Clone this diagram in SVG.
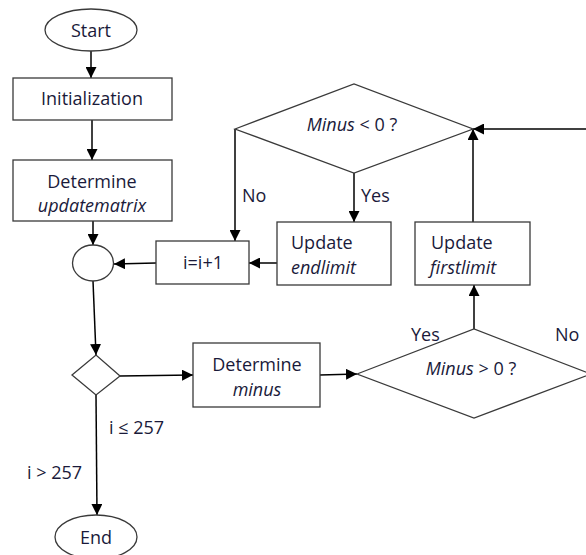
<svg xmlns="http://www.w3.org/2000/svg" width="586" height="555" viewBox="0 0 586 555">
  <defs>
    <marker id="arrow" viewBox="0 0 10 10" refX="10" refY="5" markerWidth="11" markerHeight="11" markerUnits="userSpaceOnUse" orient="auto">
      <path d="M0,0 L10,5 L0,10 Z" fill="#000"/>
    </marker>
    <style>
      .shape { fill: #fff; stroke: #3a3a3a; stroke-width: 1.3; }
      .edge { fill: none; stroke: #000; stroke-width: 1.5; }
      .arr { marker-end: url(#arrow); }
      text { font-family: "Open Sans", "Liberation Sans", sans-serif; font-size: 18px; fill: #1a1a3a; }
      .c { text-anchor: middle; }
      .it { font-style: italic; }
    </style>
  </defs>
  <rect width="586" height="555" fill="#fff"/>

  <g id="connectors">
    <line class="edge arr" x1="91" y1="51" x2="91" y2="78"/>
    <line class="edge arr" x1="92" y1="120" x2="92" y2="160"/>
    <line class="edge arr" x1="93" y1="221" x2="93" y2="245"/>
    <polyline class="edge arr" points="235,129 235,241"/>
    <line class="edge arr" x1="354" y1="173" x2="354" y2="222"/>
    <line class="edge arr" x1="277" y1="263" x2="249" y2="263"/>
    <line class="edge arr" x1="156" y1="263" x2="114" y2="264"/>
    <line class="edge arr" x1="473" y1="222" x2="473" y2="129"/>
    <line class="edge arr" x1="586" y1="129" x2="473" y2="129"/>
    <line class="edge arr" x1="93" y1="281" x2="96" y2="355"/>
    <line class="edge arr" x1="120" y1="376" x2="193" y2="375"/>
    <line class="edge arr" x1="320" y1="375" x2="357" y2="374"/>
    <line class="edge arr" x1="474" y1="329" x2="474" y2="285"/>
    <line class="edge arr" x1="96" y1="395" x2="97" y2="515"/>
  </g>

  <g id="start">
    <ellipse class="shape" cx="91" cy="30" rx="46" ry="21"/>
    <text class="c" x="91" y="37">Start</text>
  </g>
  <g id="init">
    <rect class="shape" x="13" y="78" width="159" height="42"/>
    <text class="c" x="92" y="105">Initialization</text>
  </g>
  <g id="determine-updatematrix">
    <rect class="shape" x="13" y="160" width="159" height="61"/>
    <text class="c" x="92" y="188">Determine</text>
    <text class="c it" x="92" y="212">updatematrix</text>
  </g>
  <g id="junction">
    <ellipse class="shape" cx="93" cy="263" rx="20.5" ry="18"/>
  </g>
  <g id="increment">
    <rect class="shape" x="156" y="241" width="93" height="43"/>
    <text class="c" x="203" y="269">i=i+1</text>
  </g>
  <g id="update-endlimit">
    <rect class="shape" x="277" y="222" width="114" height="63"/>
    <text x="291" y="249">Update</text>
    <text class="it" x="291" y="274">endlimit</text>
  </g>
  <g id="update-firstlimit">
    <rect class="shape" x="415" y="222" width="115" height="63"/>
    <text x="431" y="249">Update</text>
    <text class="it" x="430" y="274">firstlimit</text>
  </g>
  <g id="minus-lt-zero">
    <polygon class="shape" points="235,129 354,84 473,129 354,173"/>
    <text class="c" x="352" y="131"><tspan class="it">Minus</tspan> &lt; 0 ?</text>
  </g>
  <g id="loop-check">
    <polygon class="shape" points="72,375 96,355 120,376 96,395"/>
  </g>
  <g id="determine-minus">
    <rect class="shape" x="193" y="343" width="127" height="64"/>
    <text class="c" x="257" y="371">Determine</text>
    <text class="c it" x="257" y="396">minus</text>
  </g>
  <g id="minus-gt-zero">
    <polygon class="shape" points="357,374 474,329 591,374 474,418"/>
    <text class="c" x="471" y="375"><tspan class="it">Minus</tspan> &gt; 0 ?</text>
  </g>
  <g id="end">
    <ellipse class="shape" cx="96" cy="537" rx="41" ry="22"/>
    <text class="c" x="96" y="544">End</text>
  </g>

  <g id="labels">
    <text x="242" y="202">No</text>
    <text x="361" y="202">Yes</text>
    <text x="411" y="341">Yes</text>
    <text x="555" y="341">No</text>
    <text x="109" y="434">i ≤ 257</text>
    <text x="27" y="479">i &gt; 257</text>
  </g>
</svg>
